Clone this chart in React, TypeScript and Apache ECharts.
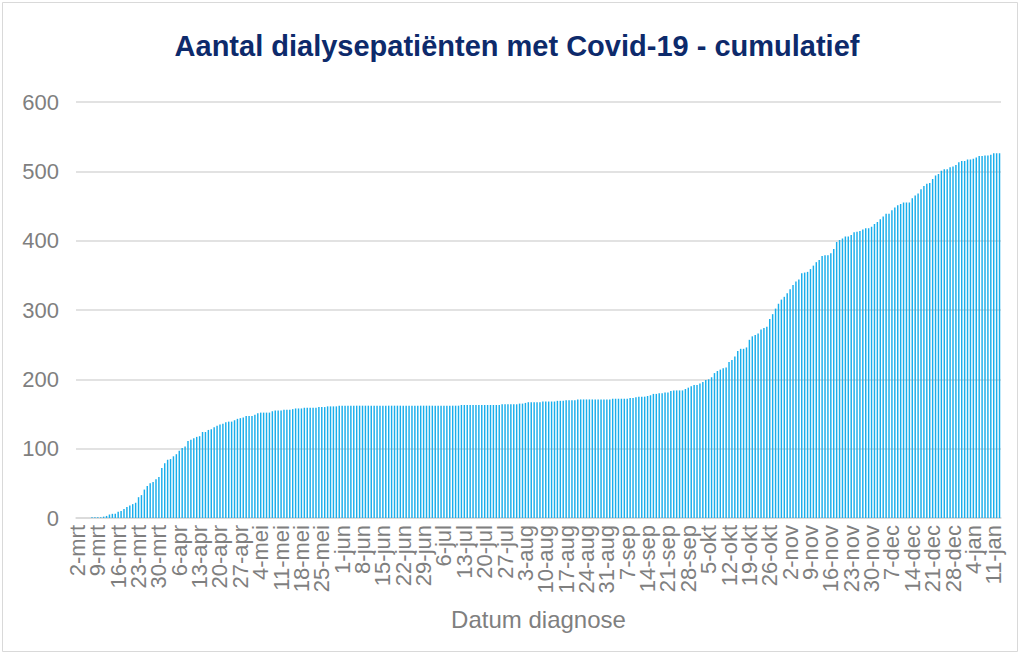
import React, { useEffect, useRef } from "react";
import * as echarts from "echarts";

// Dutch month abbreviations and day counts (March 2020 .. January 2021)
const monthNames = ["mrt", "apr", "mei", "jun", "jul", "aug", "sep", "okt", "nov", "dec", "jan"];
const monthDays = [31, 30, 31, 30, 31, 31, 30, 31, 30, 31, 31];
const startDay = 2; // 2-mrt
const totalDays = 318; // 2-mrt .. 13-jan
const labelEvery = 7; // one label per week

// cumulative number of dialysis patients with Covid-19 (one value per day)
const cumulative = [
  0, 0, 0, 0, 0, 1, 1, 1,
  1, 2, 3, 5, 6, 6,
  9, 10, 13, 16, 18, 20, 22,
  30, 33, 41, 46, 50, 52, 56,
  59, 72, 79, 84, 85, 89, 92,
  97, 101, 103, 111, 113, 115, 117,
  118, 124, 124, 127, 128, 131, 133,
  135, 136, 138, 139, 139, 141, 143,
  144, 145, 147, 147, 147, 149, 151,
  152, 152, 152, 152, 154, 155, 155,
  155, 156, 156, 156, 157, 158, 158,
  158, 159, 159, 159, 159, 159, 160,
  160, 160, 161, 161, 161, 161, 162,
  162, 162, 162, 162, 162, 162, 162,
  162, 162, 162, 162, 162, 162, 162,
  162, 162, 162, 162, 162, 162, 162,
  162, 162, 162, 162, 162, 162, 162,
  162, 162, 162, 162, 162, 162, 162,
  162, 162, 162, 162, 162, 162, 163,
  163, 163, 163, 163, 163, 163, 163,
  163, 163, 163, 163, 163, 163, 164,
  164, 164, 164, 164, 164, 165, 165,
  166, 167, 167, 167, 167, 167, 168,
  168, 168, 168, 168, 169, 169, 169,
  170, 170, 170, 170, 171, 171, 171,
  171, 171, 171, 171, 171, 171, 171,
  171, 171, 172, 172, 172, 172, 172,
  172, 173, 173, 174, 175, 175, 175,
  176, 177, 179, 179, 180, 180, 181,
  181, 183, 184, 184, 184, 184, 186,
  188, 190, 192, 192, 194, 196, 199,
  200, 203, 209, 212, 214, 216, 217,
  225, 228, 233, 241, 244, 244, 246,
  257, 262, 264, 266, 272, 274, 276,
  287, 294, 302, 309, 315, 319, 324,
  330, 336, 341, 344, 353, 354, 355,
  359, 364, 369, 372, 378, 379, 379,
  382, 388, 398, 401, 403, 406, 406,
  408, 412, 413, 414, 416, 418, 418,
  420, 424, 427, 431, 435, 439, 439,
  444, 448, 451, 453, 455, 455, 455,
  461, 465, 468, 474, 479, 482, 483,
  489, 494, 496, 501, 503, 503, 506,
  507, 509, 513, 515, 515, 517, 517,
  518, 520, 522, 522, 523, 523, 524,
  526, 526, 526,
];

const yTicks = { min: 0, max: 600, interval: 100 };

const titleText = "Aantal dialysepatiënten met Covid-19 - cumulatief";
const xAxisTitle = "Datum diagnose";

function buildCategories(): string[] {
  const out: string[] = [];
  let m = 0;
  let d = startDay;
  while (out.length < totalDays) {
    out.push(`${d}-${monthNames[m]}`);
    d += 1;
    if (d > monthDays[m]) {
      d = 1;
      m += 1;
    }
  }
  return out;
}

const FONT = "'Liberation Sans', Arial, sans-serif";

export default function App() {
  const ref = useRef<HTMLDivElement>(null);

  useEffect(() => {
    if (!ref.current) return;
    const chart = echarts.init(ref.current, undefined, { renderer: "svg" });
    const categories = buildCategories();
    const labelStyle = {
      rotate: 90,
      fontSize: 22,
      color: "#7f7f7f",
      margin: 7,
      fontFamily: FONT,
    };
    chart.setOption({
      animation: false,
      backgroundColor: "#ffffff",
      textStyle: { fontFamily: FONT },
      graphic: [
        {
          type: "rect",
          shape: { x: 2.5, y: 2.5, width: 1015, height: 649 },
          style: { fill: "none", stroke: "#d9d9d9", lineWidth: 1 },
          silent: true,
        },
        {
          type: "text",
          x: 517,
          y: 46,
          style: {
            text: titleText,
            fontFamily: FONT,
            fontSize: 29,
            fontWeight: "bold",
            fill: "#0D2A6B",
            textAlign: "center",
            textVerticalAlign: "middle",
          },
        },
      ],
      grid: {
        left: 76,
        right: 20,
        top: 102,
        bottom: 137,
        containLabel: false,
        outerBoundsMode: "none",
      },
      xAxis: [
        {
          type: "category",
          data: categories,
          boundaryGap: true,
          position: "bottom",
          name: xAxisTitle,
          nameLocation: "middle",
          nameGap: 89,
          nameTextStyle: { fontSize: 24, color: "#7f7f7f", fontFamily: FONT },
          axisLine: { lineStyle: { color: "#d9d9d9", width: 1.5 } },
          axisTick: {
            interval: labelEvery - 1,
            length: 6,
            alignWithLabel: false,
            lineStyle: { color: "#d9d9d9", width: 1.5 },
          },
          axisLabel: {
            ...labelStyle,
            interval: (i: number) => i % (2 * labelEvery) === 0,
          },
          splitLine: { show: false },
        },
        {
          type: "category",
          data: categories,
          boundaryGap: true,
          position: "bottom",
          axisLine: { show: false },
          axisTick: { show: false },
          axisLabel: {
            ...labelStyle,
            interval: (i: number) => i % (2 * labelEvery) === labelEvery,
          },
          splitLine: { show: false },
        },
      ],
      yAxis: {
        type: "value",
        min: yTicks.min,
        max: yTicks.max,
        interval: yTicks.interval,
        axisLine: { show: false },
        axisTick: { show: false },
        axisLabel: { fontSize: 22, color: "#7f7f7f", margin: 17, fontFamily: FONT },
        splitLine: { lineStyle: { color: "#d9d9d9", width: 1.5 } },
      },
      series: [
        {
          type: "bar",
          xAxisIndex: 0,
          data: cumulative,
          barWidth: "50%",
          itemStyle: { color: "#1AAEEB" },
          emphasis: { disabled: true },
        },
      ],
    });
    return () => chart.dispose();
  }, []);

  return (
    <div
      ref={ref}
      style={{ position: "fixed", left: 0, top: 0, width: 1021, height: 655 }}
    />
  );
}
